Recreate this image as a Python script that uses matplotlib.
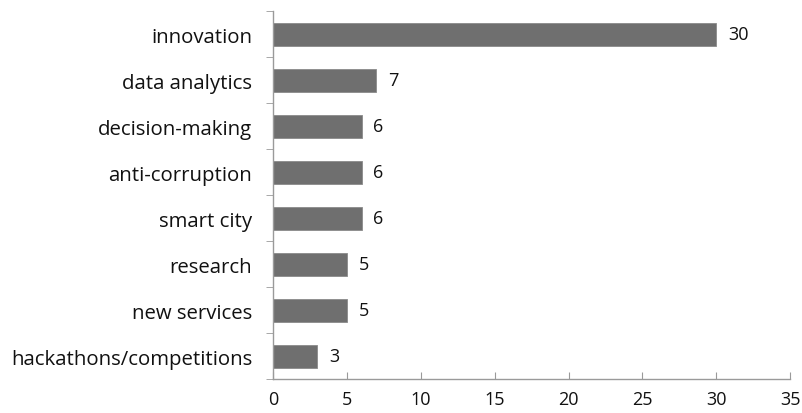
import matplotlib
matplotlib.use("Agg")
import matplotlib.pyplot as plt

# categories top to bottom
categories = ["innovation", "data analytics", "decision-making", "anti-corruption",
              "smart city", "research", "new services", "hackathons/competitions"]
counts = [30, 7, 6, 6, 6, 5, 5, 3]
x_ticks = [0, 5, 10, 15, 20, 25, 30, 35]

plt.rcParams['font.family'] = ['Open Sans', 'DejaVu Sans']

fig = plt.figure(figsize=(8.03, 4.14), dpi=100)
ax = fig.add_axes([0.34, 0.082, 0.644, 0.889])

ypos = list(range(len(categories)))[::-1]
ax.barh(ypos, counts, height=0.5, color="#6f6f6f", edgecolor="#8a8a8a", linewidth=0.6)

for y, v in zip(ypos, counts):
    ax.text(v + 0.8, y, str(v), va="center", ha="left", fontsize=13, color="#111111")

ax.set_xlim(0, 35)
ax.set_ylim(-0.5, len(categories) - 0.5)
ax.set_xticks(x_ticks)
ax.set_yticks(ypos)
ax.set_yticklabels(categories)
ax.set_yticks([i - 0.5 for i in range(len(categories) + 1)], minor=True)

for s in ["top", "right"]:
    ax.spines[s].set_visible(False)
for s in ["left", "bottom"]:
    ax.spines[s].set_color("#9a9a9a")
    ax.spines[s].set_linewidth(1.0)

ax.tick_params(axis="y", which="major", length=0, labelsize=14.7, pad=15, colors="#111111")
ax.tick_params(axis="y", which="minor", length=5, direction="out", color="#9a9a9a")
ax.tick_params(axis="x", length=5, direction="in", color="#9a9a9a", labelsize=13, pad=8, labelcolor="#111111")

fig.savefig("out.png", dpi=100)
